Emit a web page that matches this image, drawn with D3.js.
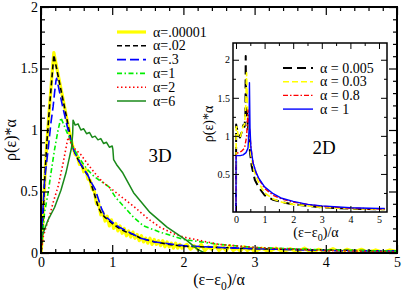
<!DOCTYPE html>
<html>
<head>
<meta charset="utf-8">
<script src="https://cdn.jsdelivr.net/npm/d3@7"></script>
<style>
  body { margin: 0; background: #fff; }
  svg, svg text { font-family: 'Liberation Serif', 'Times New Roman', 'DejaVu Serif', serif; }
</style>
</head>
<body>
<div id="chart-container"></div>
<script>
// ---- main panel (3D) data ----
const xTicks = [0, 1, 2, 3, 4, 5];
const yTicks = [0, 0.5, 1, 1.5, 2];
const yTickLabels = ["0", "0.5", "1", "1.5", "2"];

const a00001X = [0, 0.015, 0.03, 0.05, 0.08, 0.12, 0.15, 0.18, 0.24, 0.3, 0.36, 0.42,
  0.45, 0.48, 0.51, 0.54, 0.57, 0.6, 0.63, 0.66, 0.69, 0.72, 0.75, 0.78, 0.81, 0.84, 0.87, 0.9, 0.93, 0.96, 0.99,
  1.02, 1.05, 1.08, 1.11, 1.14, 1.17, 1.2, 1.23, 1.26, 1.29, 1.32, 1.35, 1.38, 1.41, 1.44, 1.47, 1.5,
  1.53, 1.56, 1.59, 1.62, 1.65, 1.68, 1.71, 1.74, 1.77, 1.8, 1.83, 1.86, 1.89, 1.92, 1.95, 1.98,
  2.05, 2.1, 2.15, 2.2, 2.25, 2.3, 2.35, 2.4, 2.45, 2.5, 2.55, 2.6, 2.65, 2.7, 2.75, 2.8, 2.85, 2.9, 2.95,
  3.0, 3.1, 3.2, 3.3, 3.4, 3.5, 3.6, 3.7, 3.8, 3.9, 4.0, 4.1, 4.2, 4.3, 4.4, 4.5, 4.6, 4.7, 4.8, 4.9, 5.0];
const a00001Y = [0, 0.1, 0.32, 0.57, 0.88, 1.19, 1.42, 1.63, 1.45, 1.28, 1.1, 0.93,
  0.86, 0.8, 0.79, 0.72, 0.73, 0.66, 0.68, 0.6, 0.59, 0.52, 0.5, 0.4, 0.4, 0.31, 0.33, 0.26, 0.3, 0.22, 0.27,
  0.2, 0.24, 0.18, 0.22, 0.16, 0.2, 0.14, 0.18, 0.13, 0.17, 0.12, 0.15, 0.1, 0.14, 0.09, 0.12, 0.08,
  0.12, 0.07, 0.11, 0.07, 0.1, 0.06, 0.1, 0.05, 0.09, 0.05, 0.08, 0.04, 0.08, 0.04, 0.07, 0.04,
  0.07, 0.03, 0.06, 0.03, 0.07, 0.02, 0.05, 0.03, 0.06, 0.02, 0.05, 0.02, 0.06, 0.02, 0.04, 0.015, 0.05, 0.02, 0.04,
  0.01, 0.04, 0.01, 0.04, 0.01, 0.035, 0.01, 0.04, 0.005, 0.03, 0.01, 0.035, 0.005, 0.03, 0.01, 0.03, 0.005, 0.025, 0.005, 0.025, 0.01];

const a02X = [0, 0.015, 0.03, 0.05, 0.08, 0.12, 0.15, 0.18, 0.24, 0.3, 0.36, 0.42, 0.45, 0.52, 0.6, 0.66, 0.7,
  0.75, 0.8, 0.85, 0.9, 1.0, 1.1, 1.2, 1.3, 1.4, 1.6, 1.8, 2.0, 2.5, 3.0, 3.5, 4.0, 4.5, 5.0];
const a02Y = [0, 0.1, 0.32, 0.57, 0.88, 1.19, 1.4, 1.61, 1.44, 1.27, 1.1, 0.92, 0.85, 0.76, 0.68, 0.63, 0.57,
  0.48, 0.38, 0.32, 0.29, 0.24, 0.2, 0.17, 0.15, 0.12, 0.09, 0.07, 0.055, 0.045, 0.035, 0.03, 0.025, 0.02, 0.015];

const a3X = [0, 0.01, 0.03, 0.05, 0.1, 0.14, 0.17, 0.19, 0.21, 0.22, 0.3, 0.4, 0.45, 0.55, 0.65, 0.72, 0.76,
  0.8, 0.85, 0.9, 1.0, 1.1, 1.2, 1.4, 1.6, 2.0, 2.5, 3.0, 4.0, 5.0];
const a3Y = [0, 0.2, 0.38, 0.59, 0.84, 1.06, 1.19, 1.3, 1.4, 1.42, 1.2, 0.95, 0.85, 0.73, 0.64, 0.56, 0.52,
  0.45, 0.36, 0.3, 0.25, 0.21, 0.18, 0.12, 0.09, 0.06, 0.045, 0.035, 0.02, 0.015];

const a1X = [0, 0.03, 0.05, 0.1, 0.14, 0.19, 0.24, 0.28, 0.35, 0.42, 0.45, 0.55, 0.65, 0.75, 0.85, 0.95, 1.05,
  1.16, 1.3, 1.44, 1.67, 2.0, 2.5, 3.0, 4.0, 5.0];
const a1Y = [0, 0.19, 0.33, 0.49, 0.65, 0.84, 1.0, 1.1, 1.0, 0.91, 0.86, 0.76, 0.68, 0.62, 0.58, 0.54, 0.45,
  0.38, 0.29, 0.22, 0.17, 0.11, 0.07, 0.045, 0.025, 0.015];

const a2X = [0, 0.03, 0.07, 0.12, 0.17, 0.24, 0.31, 0.38, 0.45, 0.56, 0.66, 0.77, 0.86, 0.97, 1.1, 1.3, 1.5,
  1.67, 1.85, 2.0, 2.5, 3.0, 4.0, 5.0];
const a2Y = [0, 0.13, 0.21, 0.3, 0.41, 0.54, 0.73, 0.94, 0.86, 0.8, 0.72, 0.64, 0.58, 0.53, 0.47, 0.38, 0.28,
  0.21, 0.16, 0.13, 0.07, 0.045, 0.02, 0.01];

const a6X = [0, 0.01, 0.1, 0.19, 0.28, 0.35, 0.4, 0.43, 0.445, 0.45, 0.48, 0.52, 0.56, 0.6, 0.64, 0.68, 0.72,
  0.76, 0.8, 0.84, 0.88, 0.92, 0.96, 1.0, 1.01, 1.02, 1.06, 1.15, 1.3, 1.53, 1.77, 2.05, 2.2, 2.3, 5.0];
const a6Y = [0.05, 0.13, 0.27, 0.37, 0.51, 0.65, 0.78, 0.86, 0.97, 1.08, 1.04, 1.05, 1.0, 1.01, 0.97, 0.98, 0.94,
  0.95, 0.92, 0.93, 0.89, 0.9, 0.86, 0.87, 0.84, 0.76, 0.72, 0.65, 0.49, 0.33, 0.21, 0.1, 0.03, 0, 0];

// ---- inset (2D) data ----
const inXTicks = [0, 1, 2, 3, 4, 5];
const inYTicks = [0.5, 1, 1.5, 2];
const inYTickLabels = ["0.5", "1", "1.5", "2"];

const b005X = [0, 0.005, 0.02, 0.08, 0.14, 0.2, 0.25, 0.3, 0.33, 0.34, 0.345, 0.36, 0.4, 0.45, 0.49, 0.55, 0.66,
  0.8, 1.0, 1.3, 1.6, 2.0, 2.5, 3.0, 4.0, 5.0, 5.2];
const b005Y = [0, 1.15, 1.12, 1.02, 0.98, 1.05, 1.14, 1.12, 1.3, 2.05, 1.78, 1.5, 1.2, 0.98, 0.78, 0.6, 0.42,
  0.32, 0.22, 0.16, 0.13, 0.1, 0.08, 0.06, 0.045, 0.035, 0.035];

const b03X = [0, 0.005, 0.02, 0.08, 0.14, 0.2, 0.25, 0.3, 0.34, 0.37, 0.4, 0.45, 0.5, 0.6, 0.7, 0.8, 1.0, 1.3,
  1.6, 2.0, 2.5, 3.0, 4.0, 5.0, 5.2];
const b03Y = [0, 1.12, 1.12, 1.0, 0.97, 1.05, 1.13, 1.15, 1.4, 1.83, 1.4, 1.05, 0.8, 0.58, 0.47, 0.38, 0.25, 0.17,
  0.13, 0.1, 0.08, 0.06, 0.045, 0.035, 0.035];

const b8X = [0, 0.005, 0.1, 0.2, 0.3, 0.37, 0.42, 0.45, 0.5, 0.55, 0.6, 0.7, 0.8, 1.0, 1.3, 1.6, 2.0, 2.5, 3.0,
  4.0, 5.0, 5.2];
const b8Y = [0, 0.77, 0.78, 0.8, 0.84, 0.99, 1.34, 1.2, 0.95, 0.76, 0.64, 0.52, 0.43, 0.31, 0.22, 0.17, 0.13, 0.1,
  0.075, 0.05, 0.04, 0.04];

const b1X = [0, 0.003, 0.05, 0.15, 0.25, 0.35, 0.42, 0.46, 0.47, 0.49, 0.52, 0.6, 0.7, 0.8, 1.0, 1.3, 1.6, 2.0,
  2.5, 3.0, 4.0, 5.0, 5.2];
const b1Y = [0, 0.74, 0.74, 0.74, 0.75, 0.78, 0.84, 1.1, 1.7, 1.1, 0.85, 0.64, 0.52, 0.44, 0.33, 0.24, 0.18, 0.14,
  0.1, 0.08, 0.055, 0.045, 0.045];

const zip = (xs, ys) => xs.map((x, i) => ({ x: x, y: ys[i] }));

const mainSeries = [
  { label: "α=.00001", data: zip(a00001X, a00001Y), color: "#ffff00", width: 3.2, dash: null },
  { label: "α=.02", data: zip(a02X, a02Y), color: "#000000", width: 1.6, dash: "5,3" },
  { label: "α=.3", data: zip(a3X, a3Y), color: "#0000ff", width: 1.6, dash: "9,4" },
  { label: "α=1", data: zip(a1X, a1Y), color: "#00ee00", width: 1.6, dash: "5,2.5,1.5,2.5" },
  { label: "α=2", data: zip(a2X, a2Y), color: "#ff0000", width: 1.6, dash: "1.5,2.5" },
  { label: "α=6", data: zip(a6X, a6Y), color: "#1a8a1a", width: 1.5, dash: null },
];

const insetSeries = [
  { label: "α = 0.005", data: zip(b005X, b005Y), color: "#000000", width: 2, dash: "9,5" },
  { label: "α = 0.03", data: zip(b03X, b03Y), color: "#ffff00", width: 1.6, dash: "6,3" },
  { label: "α = 0.8", data: zip(b8X, b8Y), color: "#ff0000", width: 1.4, dash: "5,2,1.5,2" },
  { label: "α = 1", data: zip(b1X, b1Y), color: "#0000ff", width: 1.4, dash: null },
];

const SERIF = "'Liberation Serif', 'Times New Roman', serif";
const W = 402, H = 292;
const svg = d3.select("#chart-container").append("svg")
  .attr("width", W).attr("height", H)
  .attr("font-family", SERIF);

// generic framed panel with inward ticks on all four sides
function drawFrame(g, x, y, opt) {
  const [x0, x1] = x.range();
  const [y0, y1] = y.range();
  const mk = (axisFn, scale, vals, size) => axisFn(scale).tickValues(vals).tickSize(-size).tickFormat("");
  const layers = [
    [d3.axisBottom, x, `translate(0,${y0})`, opt.xMajor, opt.major],
    [d3.axisBottom, x, `translate(0,${y0})`, opt.xMinor, opt.minor],
    [d3.axisTop, x, `translate(0,${y1})`, opt.xMajor, opt.major],
    [d3.axisTop, x, `translate(0,${y1})`, opt.xMinor, opt.minor],
    [d3.axisLeft, y, `translate(${x0},0)`, opt.yMajor, opt.major],
    [d3.axisLeft, y, `translate(${x0},0)`, opt.yMinor, opt.minor],
    [d3.axisRight, y, `translate(${x1},0)`, opt.yMajor, opt.major],
    [d3.axisRight, y, `translate(${x1},0)`, opt.yMinor, opt.minor],
  ];
  layers.forEach(([fn, sc, tr, vals, size]) => {
    g.append("g")
      .attr("transform", tr)
      .call(mk(fn, sc, vals, size))
      .call((a) => a.select(".domain").remove())
      .selectAll(".tick line")
      .attr("stroke", "#000")
      .attr("stroke-width", opt.tickWidth);
  });
  g.append("rect")
    .attr("x", x0).attr("y", y1)
    .attr("width", x1 - x0).attr("height", y0 - y1)
    .attr("fill", "none").attr("stroke", "#000").attr("stroke-width", opt.frameWidth);
}

function drawLines(g, x, y, series, clipId) {
  const line = d3.line().x((d) => x(d.x)).y((d) => y(d.y));
  g.append("g")
    .attr("clip-path", `url(#${clipId})`)
    .selectAll("path")
    .data(series)
    .join("path")
    .attr("fill", "none")
    .attr("stroke", (s) => s.color)
    .attr("stroke-width", (s) => s.width)
    .attr("stroke-dasharray", (s) => s.dash)
    .attr("stroke-linejoin", "round")
    .attr("d", (s) => line(s.data));
}

function drawLegend(g, series, x0, x1, tx, yStart, step, fs) {
  series.forEach((s, i) => {
    const yy = yStart + i * step;
    g.append("line")
      .attr("x1", x0).attr("x2", x1).attr("y1", yy).attr("y2", yy)
      .attr("stroke", s.color).attr("stroke-width", s.width)
      .attr("stroke-dasharray", s.dash);
    g.append("text")
      .attr("x", tx).attr("y", yy + fs * 0.33)
      .attr("font-family", SERIF)
      .style("font-size", fs + "px")
      .text(s.label);
  });
}

function xTitle(g, cx, by, fs) {
  const t = g.append("text").attr("x", cx).attr("y", by)
    .attr("text-anchor", "middle").attr("font-family", SERIF).style("font-size", fs + "px");
  t.append("tspan").text("(ε−ε");
  t.append("tspan").attr("dy", fs * 0.3).style("font-size", fs * 0.72 + "px").text("0");
  t.append("tspan").attr("dy", -fs * 0.3).text(")/α");
}

function labelAxis(g, axis, tr, fs) {
  g.append("g")
    .attr("transform", tr)
    .call(axis)
    .attr("font-family", SERIF)
    .attr("font-size", fs)
    .call((a) => a.select(".domain").remove())
    .selectAll("text")
    .attr("fill", "#000");
}

// ---------------- main panel ----------------
const x = d3.scaleLinear().domain([0, 5]).range([41, 397]);
const y = d3.scaleLinear().domain([0, 2]).range([253, 7]);

const defs = svg.append("defs");
defs.append("clipPath").attr("id", "clipMain").append("rect")
  .attr("x", 41).attr("y", 7).attr("width", 356).attr("height", 246);

const main = svg.append("g");
drawLines(main, x, y, mainSeries, "clipMain");

drawFrame(main, x, y, {
  xMajor: xTicks, xMinor: d3.range(0, 5.001, 0.2).filter((v) => Math.abs(v - Math.round(v)) > 1e-6),
  yMajor: yTicks, yMinor: d3.range(0, 2.001, 0.1).filter((v) => Math.abs(v * 2 - Math.round(v * 2)) > 1e-6),
  major: 8, minor: 4, tickWidth: 1.2, frameWidth: 2,
});

labelAxis(main, d3.axisBottom(x).tickValues(xTicks).tickSize(0).tickPadding(4).tickFormat(d3.format("d")),
  "translate(0,253)", 14);
labelAxis(main, d3.axisLeft(y).tickValues(yTicks).tickSize(0).tickPadding(3).tickFormat((d, i) => yTickLabels[i]),
  "translate(41,0)", 14);

xTitle(main, 219, 285, 16);
main.append("text")
  .attr("transform", "translate(16,140) rotate(-90)")
  .attr("text-anchor", "middle")
  .attr("font-family", SERIF)
  .style("font-size", "16px")
  .text("ρ(ε)*α");

main.append("text").attr("x", 160).attr("y", 162).attr("text-anchor", "middle")
  .attr("font-family", SERIF).style("font-size", "19px").text("3D");

drawLegend(main, mainSeries, 117, 146, 153, 32, 13.8, 14);

// ---------------- inset panel ----------------
const xi = d3.scaleLinear().domain([-0.105, 5.28]).range([233, 387]);
const yi = d3.scaleLinear().domain([0, 2.22]).range([212, 43]);

defs.append("clipPath").attr("id", "clipInset").append("rect")
  .attr("x", 233).attr("y", 43).attr("width", 154).attr("height", 169);

const inset = svg.append("g");
inset.append("rect").attr("x", 233).attr("y", 43).attr("width", 154).attr("height", 169).attr("fill", "#fff");
drawLines(inset, xi, yi, insetSeries, "clipInset");

drawFrame(inset, xi, yi, {
  xMajor: inXTicks, xMinor: [0.5, 1.5, 2.5, 3.5, 4.5],
  yMajor: inYTicks, yMinor: [0.25, 0.75, 1.25, 1.75],
  major: 6, minor: 3, tickWidth: 1, frameWidth: 1.5,
});

labelAxis(inset, d3.axisBottom(xi).tickValues(inXTicks).tickSize(0).tickPadding(4).tickFormat(d3.format("d")),
  "translate(0,212)", 10);
labelAxis(inset, d3.axisLeft(yi).tickValues(inYTicks).tickSize(0).tickPadding(3).tickFormat((d, i) => inYTickLabels[i]),
  "translate(233,0)", 10);

xTitle(inset, 316, 237, 14);
inset.append("text")
  .attr("transform", "translate(213,124) rotate(-90)")
  .attr("text-anchor", "middle")
  .attr("font-family", SERIF)
  .style("font-size", "14px")
  .text("ρ(ε)*α");

inset.append("text").attr("x", 324).attr("y", 154).attr("text-anchor", "middle")
  .attr("font-family", SERIF).style("font-size", "19px").text("2D");

drawLegend(inset, insetSeries, 283, 313, 320, 68, 13.7, 14);
</script>
</body>
</html>
